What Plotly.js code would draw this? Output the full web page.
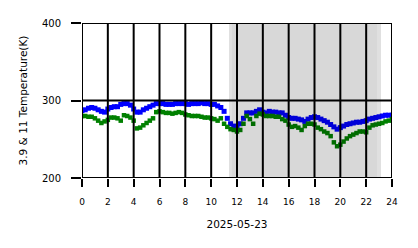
<!DOCTYPE html>
<html>
<head>
<meta charset="utf-8">
<script src="https://cdn.plot.ly/plotly-3.0.1.min.js"></script>
<style>html,body{margin:0;padding:0;background:#fff;}#chart{width:418px;height:248px;}</style>
</head>
<body>
<div id="chart"></div>
<script>
// hours of day (2025-05-23)
const hours = [0,0.25,0.5,0.75,1,1.25,1.5,1.75,2,2.25,2.5,2.75,3,3.25,3.5,3.75,4,4.25,4.5,4.75,5,5.25,5.5,5.75,6,6.25,6.5,6.75,7,7.25,7.5,7.75,8,8.25,8.5,8.75,9,9.25,9.5,9.75,10,10.25,10.5,10.75,11,11.25,11.5,11.75,12,12.25,12.5,12.75,13,13.25,13.5,13.75,14,14.25,14.5,14.75,15,15.25,15.5,15.75,16,16.25,16.5,16.75,17,17.25,17.5,17.75,18,18.25,18.5,18.75,19,19.25,19.5,19.75,20,20.25,20.5,20.75,21,21.25,21.5,21.75,22,22.25,22.5,22.75,23,23.25,23.5,23.75,24];
// 11 um brightness temperature (K) - blue
const temp11 = [287,288,290,291,290,288,286,285,289,291,292,292,295,296,296,294,289,285,285,288,290,292,294,296,296,296,295,295,295,296,296,296,296,295,296,296,296,297,296,296,295,295,293,291,286,277,270,267,266,270,277,284,284,284,286,288,285,284,286,285,285,284,284,281,278,277,277,276,275,273,276,278,279,278,276,274,272,269,266,263,265,267,269,270,271,272,272,273,274,276,277,278,279,280,281,281,281];
// 3.9 um brightness temperature (K) - green
const temp39 = [280,280,279,279,277,274,271,273,275,278,278,277,274,281,280,278,274,264,265,268,271,274,277,285,286,285,284,284,283,284,285,284,282,281,280,280,280,279,278,278,277,276,274,277,270,266,263,262,260,262,270,280,276,270,280,283,282,280,280,280,279,279,276,274,269,266,267,265,262,267,270,270,269,265,263,260,258,254,246,241,243,247,251,254,256,258,260,260,259,265,268,269,270,271,273,274,276];
// night shading (hours)
const nightOuter = [11.38, 23.15];
const nightInner = [11.6, 22.84];
const xTicks = [0,2,4,6,8,10,12,14,16,18,20,22,24];
const yTicks = [200,300,400];

const traces = [
  {x: hours, y: temp11, mode: 'markers', type: 'scatter', name: '11',
   marker: {symbol: 'square', size: 5, color: '#0000ff', line: {width: 0}}},
  {x: hours, y: temp39, mode: 'markers', type: 'scatter', name: '3.9',
   marker: {symbol: 'square', size: 4.5, color: '#008000', line: {width: 0}}}
];

const shapes = [];
shapes.push({type: 'rect', xref: 'x', yref: 'paper', x0: nightOuter[0], x1: nightOuter[1], y0: 0, y1: 1,
  fillcolor: 'rgba(0,0,0,0.12)', line: {width: 0}, layer: 'above'});
shapes.push({type: 'rect', xref: 'x', yref: 'paper', x0: nightInner[0], x1: nightInner[1], y0: 0, y1: 1,
  fillcolor: 'rgba(0,0,0,0.035)', line: {width: 0}, layer: 'above'});
xTicks.forEach(v => shapes.push({type: 'line', xref: 'x', yref: 'paper', x0: v, x1: v, y0: 0, y1: 1,
  line: {color: '#000', width: 2}, layer: 'above'}));
yTicks.forEach(v => shapes.push({type: 'line', xref: 'paper', yref: 'y', x0: 0, x1: 1, y0: v, y1: v,
  line: {color: '#000', width: 2}, layer: 'above'}));

const layout = {
  width: 418, height: 248,
  margin: {l: 82, r: 26, t: 23, b: 70, pad: 0},
  paper_bgcolor: '#fff', plot_bgcolor: '#fff',
  showlegend: false,
  font: {family: 'DejaVu Sans', color: '#000'},
  xaxis: {
    range: [0, 24], tickvals: xTicks, ticktext: xTicks.map(String),
    showgrid: false, zeroline: false, showline: false,
    ticks: 'outside', ticklen: 8, tickwidth: 2, tickcolor: '#000',
    tickfont: {size: 9, color: '#000'}, ticklabelstandoff: 7,
    title: {text: '2025-05-23', font: {size: 10.5, color: '#000'}, standoff: 14}
  },
  yaxis: {
    range: [200, 400], tickvals: yTicks, ticktext: yTicks.map(String),
    showgrid: false, zeroline: false, showline: false,
    ticks: 'outside', ticklen: 10, tickwidth: 2, tickcolor: '#000',
    tickfont: {size: 10, color: '#000'}, ticklabelstandoff: 8,
    title: {text: '3.9 & 11 Temperature(K)', font: {size: 10.5, color: '#000'}, standoff: 12}
  },
  shapes: shapes
};

Plotly.newPlot('chart', traces, layout, {staticPlot: true, displayModeBar: false});
</script>
</body>
</html>
